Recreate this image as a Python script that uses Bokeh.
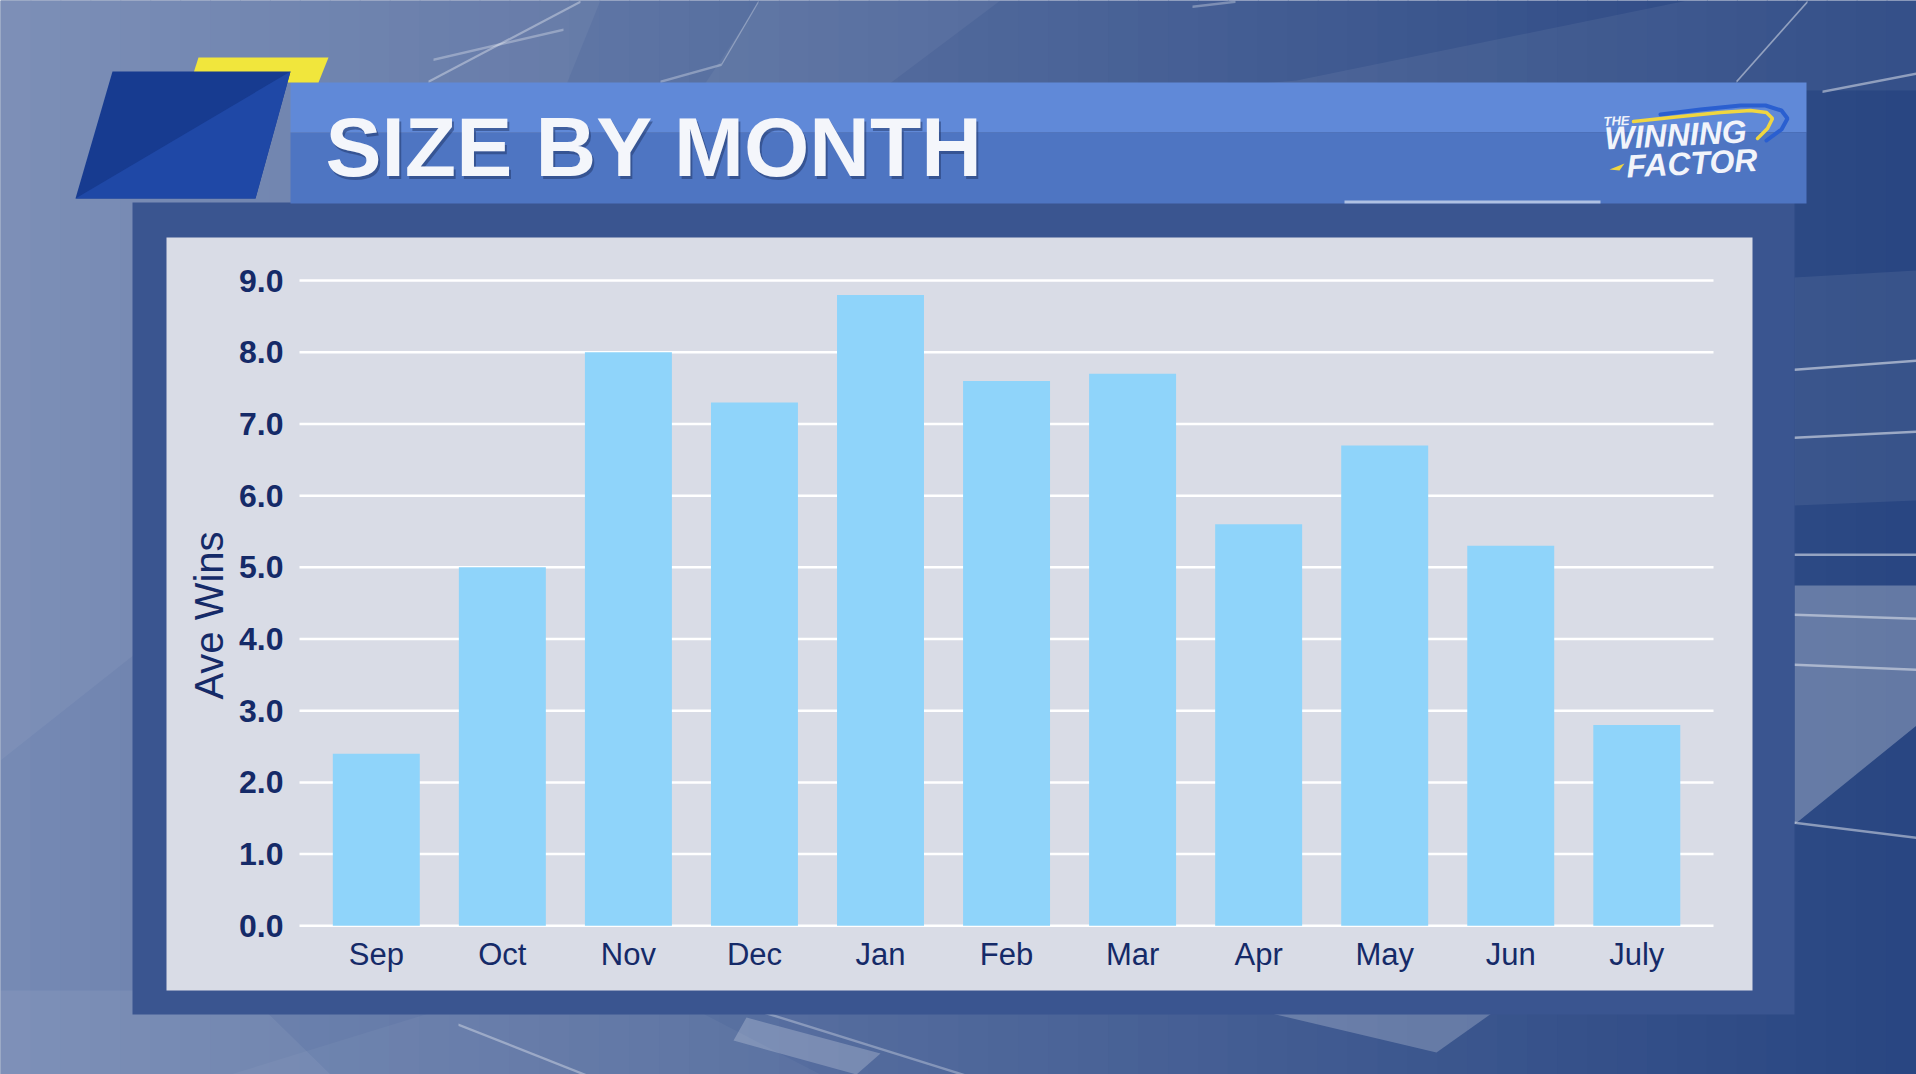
import math
from bokeh.plotting import figure
from bokeh.models import Range1d, FixedTicker, NumeralTickFormatter, LinearAxis
from bokeh.core.properties import value
from bokeh.embed import file_html
from bokeh.resources import INLINE

# ---------------- data ----------------
months = ["Sep", "Oct", "Nov", "Dec", "Jan", "Feb", "Mar", "Apr", "May", "Jun", "July"]
ave_wins = [2.4, 5.0, 8.0, 7.3, 8.8, 7.6, 7.7, 5.6, 6.7, 5.3, 2.8]
y_ticks = [0, 1, 2, 3, 4, 5, 6, 7, 8, 9]
title_text = "SIZE BY MONTH"
y_label = "Ave Wins"
logo_lines = ["THE", "WINNING", "FACTOR"]

# ---------------- page geometry (px) ----------------
W, H = 1916, 1074
FL, FR, FB = 299, 1713, 929        # plot area edges (px)
C0, SP = 375.8, 126.05             # first category centre, category spacing (px)
ZERO, UNIT = 925.3, 71.69          # y=0 position, px per unit

NAVY = "#152a68"
BAR = "#8fd4fa"
PANEL = "#d9dce6"


def to_x(px):
    return (px - C0) / SP


def to_y(py):
    return (ZERO - py) / UNIT


xpos = list(range(len(months)))

p = figure(width=W, height=H,
           x_range=Range1d(to_x(0), to_x(W)), y_range=Range1d(to_y(H), to_y(0)),
           output_backend="svg", toolbar_location=None, title=None,
           x_axis_location=None, y_axis_location=None, min_border=0)
p.min_border_left = p.min_border_right = p.min_border_top = p.min_border_bottom = 0
p.outline_line_color = None
p.border_fill_color = "#52699c"
p.background_fill_color = "#52699c"
p.grid.visible = False
p.extra_x_ranges = {"px": Range1d(0, W)}
p.extra_y_ranges = {"px": Range1d(H, 0)}
PXR = dict(x_range_name="px", y_range_name="px")

# ---------------- decoration shapes (page px) ----------------
deco = []  # (xs, ys, color, alpha)
c0 = (0x76, 0x8a, 0xb4)
c1 = (0x29, 0x46, 0x82)
n = 64
for i in range(n):
    t = i / (n - 1)
    c = tuple(int(c0[k] + (c1[k] - c0[k]) * t) for k in range(3))
    x0 = W * i / n
    x1 = W * (i + 1) / n + 1
    deco.append(([x0, x1, x1, x0], [0, 0, H, H], "#%02x%02x%02x" % c, 1.0))
# soft facets
deco.append(([0, 600, 430, 0], [0, 0, 420, 760], "#ffffff", 0.05))
deco.append(([760, 1000, 880, 700], [0, 0, 90, 90], "#ffffff", 0.05))
deco.append(([1296, 1687, 1916, 1916, 1180], [80, 0, 0, 90, 90], "#ffffff", 0.06))
deco.append(([1794, W, W, 1794], [277, 270, 500, 505], "#ffffff", 0.07))
deco.append(([1794, W, W, 1794], [585, 585, 725, 824], "#ffffff", 0.28))
deco.append(([0, 244, 330, 0], [990, 990, 1074, 1074], "#ffffff", 0.06))
deco.append(([746, 880, 856, 733], [1017, 1053, 1074, 1040], "#ffffff", 0.22))
deco.append(([1271, 1491, 1436], [1013, 1013, 1052], "#ffffff", 0.22))
deco.append(([230, 600, 820, 420], [1074, 960, 1074, 1074], "#ffffff", 0.04))
# thin streak lines
for (xa, ya, xb, yb, al) in [(1794, 368, W, 359, 0.5), (1794, 436, W, 430, 0.5),
                             (1794, 553, W, 553, 0.5), (1794, 613, W, 617, 0.45),
                             (1794, 663, W, 668, 0.45), (1794, 821, W, 836, 0.45),
                             (1750, 820, 1794, 821, 0.25),
                             (428, 80, 580, 0, 0.35), (433, 58, 563, 28, 0.3),
                             (660, 80, 721, 63, 0.3), (721, 63, 758, 0, 0.3),
                             (1192, 5, 1235, 0, 0.3), (1736, 80, 1807, 0, 0.45),
                             (1822, 90, W, 72, 0.45),
                             (458, 1023, 587, 1074, 0.35), (697, 990, 966, 1074, 0.3)]:
    deco.append(([xa, xb, xb, xa], [ya, yb, yb + 2.5, ya + 2.5], "#ffffff", al))
# dark frame and light chart panel
deco.append(([132, 1794, 1794, 132], [202, 202, 1014, 1014], "#3a5590", 1.0))
deco.append(([166, 1752, 1752, 166], [237, 237, 990, 990], PANEL, 1.0))
# header banner
deco.append(([290, 1806, 1806, 290], [82, 82, 132, 132], "#6089d8", 1.0))
deco.append(([290, 1806, 1806, 290], [132, 132, 203, 203], "#4e75c2", 1.0))
deco.append(([1344, 1600, 1600, 1344], [200, 200, 203, 203], "#ffffff", 0.55))
# yellow tab and blue parallelogram
deco.append(([198, 328, 318, 190], [57, 57, 82, 82], "#f1e63c", 1.0))
deco.append(([112, 290, 255, 75], [71, 71, 198, 198], "#173b90", 1.0))
deco.append(([290, 255, 75], [71, 198, 198], "#1f48a6", 1.0))
# small yellow wedge of the logo
deco.append(([1609, 1624, 1619], [169, 163, 170], "#f0d640", 1.0))

p.patches(xs=[d[0] for d in deco], ys=[d[1] for d in deco],
          fill_color=[d[2] for d in deco], fill_alpha=[d[3] for d in deco],
          line_color=None, **PXR)

# logo swoosh: blue outer rim and yellow inner line
p.line(x=[1660, 1700, 1740, 1765, 1781, 1787, 1781, 1766],
       y=[114, 109, 105, 105, 110, 118, 129, 140],
       line_color="#2a5fd0", line_width=4, line_cap="round", **PXR)
p.line(x=[1633, 1680, 1720, 1750, 1766, 1772, 1767, 1757],
       y=[121, 116, 112, 110, 112, 118, 128, 138],
       line_color="#f0d640", line_width=3.5, line_cap="round", **PXR)

# ---------------- grid lines and bars (data coordinates) ----------------
p.segment(x0=[to_x(FL)] * len(y_ticks), x1=[to_x(FR)] * len(y_ticks),
          y0=y_ticks, y1=y_ticks, line_color="white", line_width=2.5)
p.vbar(x=xpos, top=ave_wins, bottom=0, width=0.69, fill_color=BAR, line_color=None)

# ---------------- axes ----------------
ya = LinearAxis(ticker=FixedTicker(ticks=y_ticks),
                formatter=NumeralTickFormatter(format="0.0"),
                fixed_location=to_x(FL))
ya.axis_line_color = None
ya.major_tick_line_color = None
ya.minor_tick_line_color = None
ya.major_label_text_font = "Liberation Sans"
ya.major_label_text_font_style = "bold"
ya.major_label_text_font_size = "32px"
ya.major_label_text_color = NAVY
ya.major_label_standoff = 10
p.add_layout(ya, "left")

xa = LinearAxis(ticker=FixedTicker(ticks=xpos),
                major_label_overrides={i: m for i, m in enumerate(months)},
                fixed_location=to_y(FB))
xa.axis_line_color = None
xa.major_tick_line_color = None
xa.minor_tick_line_color = None
xa.major_label_text_font = "Liberation Sans"
xa.major_label_text_font_size = "31px"
xa.major_label_text_color = NAVY
xa.major_label_standoff = 1
p.add_layout(xa, "below")

# ---------------- texts ----------------
p.text(x=[208], y=[615], text=[y_label], angle=math.pi / 2,
       text_font=value("Liberation Sans"), text_font_size="40px",
       text_color=NAVY, text_align="center", text_baseline="middle", **PXR)

p.text(x=[327], y=[149], text=[title_text], text_font=value("Liberation Sans"),
       text_font_style="bold", text_font_size="84px", text_color="#1b2d5a",
       text_alpha=0.45, text_baseline="alphabetic", **PXR)
p.text(x=[325], y=[146], text=[title_text], text_font=value("Liberation Sans"),
       text_font_style="bold", text_font_size="84px", text_color="#f4f6fb",
       text_baseline="alphabetic", **PXR)

for txt, x, y, size in zip(logo_lines, [1603, 1604, 1626], [121, 138, 166],
                           ["13px", "32px", "32px"]):
    p.text(x=[x], y=[y], text=[txt], text_font=value("Liberation Sans"),
           text_font_style="bold italic", text_font_size=size, text_color="#f2f4fa",
           angle=0.05, text_baseline="alphabetic", **PXR)

open("out.html", "w").write(file_html(p, INLINE))
